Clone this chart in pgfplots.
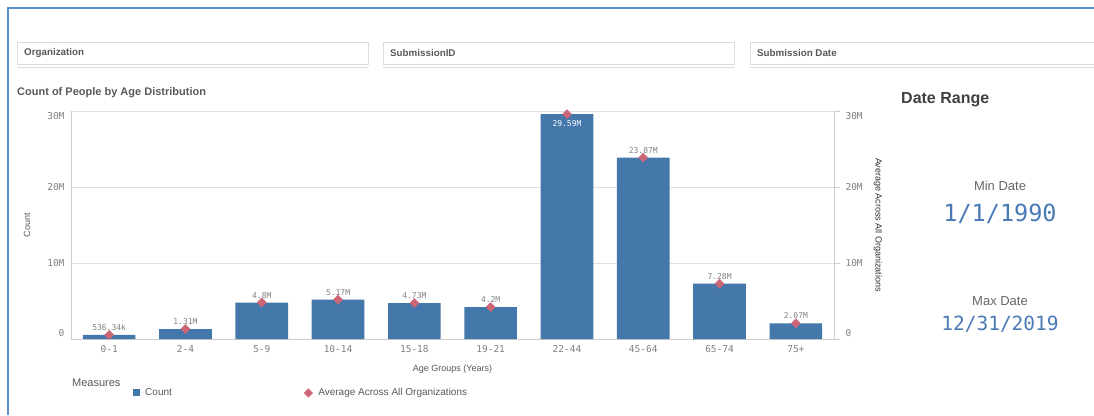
\documentclass[border=0pt]{standalone}
\usepackage{fontspec}
\setmainfont{Liberation Sans}
\setmonofont{DejaVu Sans Mono}
\usepackage{pgfplots}
\pgfplotsset{compat=1.18}
\definecolor{barblue}{RGB}{68,119,170}
\definecolor{markred}{RGB}{204,102,119}
\definecolor{borderblue}{RGB}{88,140,204}
\definecolor{txtgray}{RGB}{89,89,89}
\definecolor{darktxt}{RGB}{64,64,64}
\definecolor{lbldark}{RGB}{51,51,51}
\definecolor{tickgray}{RGB}{128,128,128}
\definecolor{dategray}{RGB}{102,102,102}
\definecolor{dateblue}{RGB}{74,122,181}
\definecolor{gridgray}{RGB}{224,224,224}
\definecolor{linegray}{RGB}{204,204,204}
\definecolor{boxgray}{RGB}{220,220,220}
\begin{document}
\begin{tikzpicture}[x=1pt,y=1pt]
\useasboundingbox (0,0) rectangle (1094,415);
\fill[white] (0,0) rectangle (1094,415);
\draw[borderblue, line width=2pt] (8,0) -- (8,407) -- (1094,407);
% filter boxes
\foreach \a/\b/\t in {17/368/Organization, 383/734/SubmissionID, 750/1100/Submission Date}{
  \draw[boxgray, line width=0.8pt] (\a,351) rectangle (\b,373);
  \draw[boxgray, line width=0.8pt] (\a,348) -- (\b,348);
  \node[anchor=west, inner sep=0pt, font=\bfseries\fontsize{9.8}{11}\selectfont, text=txtgray] at (\a+7,362) {\t};
}
\node[anchor=west, inner sep=0pt, font=\bfseries\fontsize{11}{13}\selectfont, text=txtgray] at (17,322) {Count of People by Age Distribution};
% date range panel
\node[anchor=west, inner sep=0pt, font=\bfseries\fontsize{16}{18}\selectfont, text=darktxt] at (901,315) {Date Range};
\node[inner sep=0pt, font=\fontsize{13}{15}\selectfont, text=dategray] at (1000,229) {Min Date};
\node[inner sep=0pt, font=\ttfamily\fontsize{23.5}{26}\selectfont, text=dateblue] at (1000,201) {1/1/1990};
\node[inner sep=0pt, font=\fontsize{13}{15}\selectfont, text=dategray] at (1000,114) {Max Date};
\node[inner sep=0pt, font=\ttfamily\fontsize{19.5}{22}\selectfont, text=dateblue] at (1000,91) {12/31/2019};
% legend title
\node[anchor=west, inner sep=0pt, font=\fontsize{11}{13}\selectfont, text=txtgray] at (72,32) {Measures};

\begin{axis}[
  at={(71pt,76pt)}, anchor=south west, scale only axis,
  width=763pt, height=228pt,
  xmin=-0.5, xmax=9.5, ymin=0, ymax=30000000, clip=false,
  axis x line*=bottom, axis y line*=left,
  axis line style={linegray, line width=0.8pt},
  ymajorgrids, major grid style={gridgray, line width=0.8pt},
  xtick={0,1,2,3,4,5,6,7,8,9},
  xticklabels={0-1,2-4,5-9,10-14,15-18,19-21,22-44,45-64,65-74,75+},
  ytick={0,10000000,20000000,30000000},
  yticklabels={0,10M,20M,30M},
  scaled y ticks=false,
  major tick length=0pt,
  ticklabel style={font=\ttfamily\fontsize{9.5}{10}\selectfont, text=tickgray},
  xticklabel style={yshift=-3pt},
  yticklabel style={xshift=-3pt, yshift={6*(\ticknum==0)-5*(\ticknum==3)}},
  xlabel={Age Groups (Years)}, ylabel={Count},
  every axis x label/.style={at={(rel axis cs:0.5,0)}, yshift=-30pt, anchor=center, font=\fontsize{9}{10}\selectfont, text=txtgray},
  every axis y label/.style={at={(rel axis cs:0,0.5)}, xshift=-44pt, rotate=90, anchor=center, font=\fontsize{9}{10}\selectfont, text=txtgray},
  legend columns=2,
  legend style={at={(rel axis cs:0.0813,-0.2368)}, anchor=west, draw=none, fill=none, inner sep=0pt,
    font=\fontsize{10}{12}\selectfont, text=txtgray,
    /tikz/every even column/.append style={column sep=130pt}},
]
\addplot[ybar, bar width=0.69, fill=barblue, draw=none,
  legend image code/.code={\fill[barblue] (0pt,-3.5pt) rectangle (7pt,3.5pt); \path[draw=none] (0pt,0pt) -- (10pt,0pt);}]
  coordinates {(0,536340) (1,1310000) (2,4800000) (3,5170000) (4,4730000)
               (5,4200000) (6,29590000) (7,23870000) (8,7280000) (9,2070000)};
\addlegendentry{Count}
\addplot[only marks, mark=square*, mark size=3.2pt,
  mark options={rotate=45, fill=markred, draw=markred},
  nodes near coords, point meta=explicit symbolic,
  every node near coord/.append style={font=\ttfamily\fontsize{8}{9}\selectfont, text=tickgray, anchor=south, inner sep=1pt, yshift=3pt},
  legend image code/.code={\fill[markred, rotate=45] (-3pt,-3pt) rectangle (3pt,3pt); \path[draw=none] (-4.3pt,0pt) -- (8pt,0pt);}]
  coordinates {(0,536340)[536.34k] (1,1310000)[1.31M] (2,4800000)[4.8M] (3,5170000)[5.17M]
               (4,4730000)[4.73M] (5,4200000)[4.2M] (7,23870000)[23.87M]
               (8,7280000)[7.28M] (9,2070000)[2.07M]};
\addlegendentry{Average Across All Organizations}
\addplot[forget plot, only marks, mark=square*, mark size=3.2pt,
  mark options={rotate=45, fill=markred, draw=markred},
  nodes near coords, point meta=explicit symbolic,
  every node near coord/.append style={font=\ttfamily\fontsize{8}{9}\selectfont, text=white, anchor=north, inner sep=1pt, yshift=-5pt}]
  coordinates {(6,29590000)[29.59M]};
\end{axis}

\begin{axis}[
  at={(71pt,76pt)}, anchor=south west, scale only axis,
  width=763pt, height=228pt,
  xmin=-0.5, xmax=9.5, ymin=0, ymax=30000000,
  axis x line=none, axis y line*=right,
  axis line style={linegray, line width=0.8pt},
  ytick={0,10000000,20000000,30000000},
  yticklabels={0,10M,20M,30M},
  scaled y ticks=false,
  tick align=outside, major tick length=6pt,
  ytick style={linegray, line width=0.8pt},
  yticklabel style={font=\ttfamily\fontsize{9.5}{10}\selectfont, text=tickgray, xshift=2pt, yshift={6*(\ticknum==0)-5*(\ticknum==3)}},
  ylabel={Average Across All Organizations},
  every axis y label/.style={at={(rel axis cs:1,0.5)}, xshift=44pt, rotate=-90, anchor=center, font=\fontsize{9}{10}\selectfont, text=lbldark},
]
\addplot[draw=none, forget plot] coordinates {(0,0)};
\end{axis}
\end{tikzpicture}
\end{document}
